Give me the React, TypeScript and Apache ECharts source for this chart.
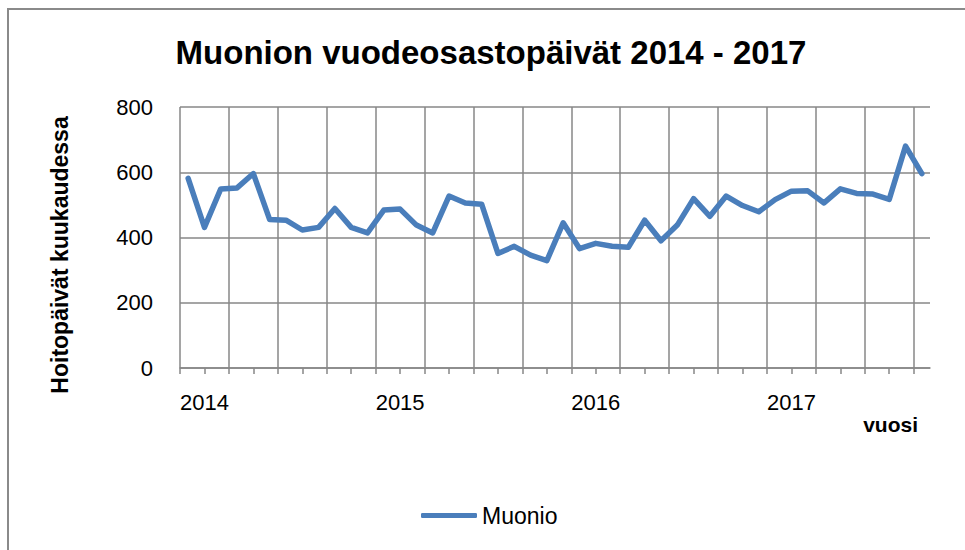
import React, { useEffect, useRef } from "react";
import * as echarts from "echarts";

const yearLabels = ["2014", "2015", "2016", "2017"];
const yearLabelPositions = [1.5, 13.5, 25.5, 37.5];
const muonio = [
  581, 431, 549, 552, 596, 455, 453, 423, 431, 489, 431, 414,
  484, 487, 438, 414, 527, 506, 502, 351, 373, 346, 329, 445,
  366, 382, 373, 370, 453, 390, 438, 519, 465, 527, 498, 479,
  516, 542, 543, 506, 549, 535, 533, 517, 680, 596,
];
const seriesName = "Muonio";
const titleText = "Muonion vuodeosastopäivät 2014 - 2017";
const yAxisName = "Hoitopäivät kuukaudessa";
const xAxisName = "vuosi";

const FONT = "'Liberation Sans', Arial, sans-serif";
const GRID_COLOR = "#878787";
const LINE_COLOR = "#4A7EBB";

export default function App() {
  const ref = useRef<HTMLDivElement>(null);
  useEffect(() => {
    if (!ref.current) return;
    const chart = echarts.init(ref.current, undefined, { renderer: "svg" });
    const n = muonio.length;
    const plotLeft = 180;
    const plotRight = 930;
    const plotWidth = plotRight - plotLeft;
    const unit = plotWidth / n;
    const gridLineStyle = { color: GRID_COLOR, width: 1.5 };
    chart.setOption({
      animation: false,
      backgroundColor: "#fff",
      textStyle: { fontFamily: FONT },
      grid: [
        { left: plotLeft, right: 965 - plotRight, top: 107, bottom: 182 },
        { left: plotLeft, width: unit * (n - 1), top: 107, bottom: 182 },
      ],
      xAxis: [
        {
          gridIndex: 0,
          type: "value",
          min: 0,
          max: n,
          axisLine: { show: true, lineStyle: gridLineStyle },
          axisTick: { show: false },
          axisLabel: { show: false },
          splitLine: { show: false },
        },
        {
          gridIndex: 1,
          type: "value",
          min: 0,
          max: n - 1,
          interval: 1.5,
          axisLine: { show: false },
          axisTick: { show: true, length: 6, lineStyle: gridLineStyle },
          axisLabel: {
            show: true,
            fontSize: 22,
            color: "#000",
            fontFamily: FONT,
            margin: 23,
            formatter: (v: number) => {
              const i = yearLabelPositions.findIndex((p) => Math.abs(p - v) < 1e-6);
              return i >= 0 ? yearLabels[i] : "";
            },
          },
          splitLine: { show: false },
        },
        {
          gridIndex: 1,
          type: "value",
          min: 0,
          max: n - 1,
          interval: 3,
          axisLine: { show: false },
          axisTick: { show: false },
          axisLabel: { show: false },
          splitLine: { show: true, lineStyle: gridLineStyle },
        },
      ],
      yAxis: [
        {
          gridIndex: 0,
          type: "value",
          min: 0,
          max: 800,
          interval: 200,
          axisLine: { show: false },
          axisTick: { show: false },
          axisLabel: { fontSize: 22, color: "#000", fontFamily: FONT, margin: 27 },
          splitLine: { show: true, lineStyle: gridLineStyle },
        },
        { gridIndex: 1, type: "value", min: 0, max: 800, show: false, splitLine: { show: false } },
      ],
      legend: {
        data: [{ name: seriesName, icon: "roundRect" }],
        left: 421,
        top: 504,
        padding: 0,
        itemWidth: 56,
        itemHeight: 5,
        itemGap: 5,
        itemStyle: { color: LINE_COLOR },
        textStyle: { fontSize: 23, color: "#000", fontFamily: FONT },
      },
      graphic: [
        {
          type: "rect",
          z: -10,
          shape: { x: 8, y: 9, width: 1200, height: 800 },
          style: { fill: "none", stroke: "#8a8a8a", lineWidth: 2 },
        },
        {
          type: "text",
          x: 491,
          y: 52,
          style: {
            text: titleText,
            fontSize: 33,
            fontWeight: "bold",
            fontFamily: FONT,
            fill: "#000",
            align: "center",
            verticalAlign: "middle",
            textAlign: "center",
            textVerticalAlign: "middle",
          },
        },
        {
          type: "text",
          x: 60,
          y: 255,
          rotation: Math.PI / 2,
          style: {
            text: yAxisName,
            fontSize: 23,
            fontWeight: "bold",
            fontFamily: FONT,
            fill: "#000",
            align: "center",
            verticalAlign: "middle",
            textAlign: "center",
            textVerticalAlign: "middle",
          },
        },
        {
          type: "text",
          x: 918,
          y: 424,
          style: {
            text: xAxisName,
            fontSize: 21,
            fontWeight: "bold",
            fontFamily: FONT,
            fill: "#000",
            align: "right",
            verticalAlign: "middle",
            textAlign: "right",
            textVerticalAlign: "middle",
          },
        },
      ],
      series: [
        {
          type: "line",
          name: seriesName,
          xAxisIndex: 0,
          yAxisIndex: 0,
          data: muonio.map((v, i) => [i + 0.5, v]),
          symbol: "none",
          lineStyle: { color: LINE_COLOR, width: 5.5, cap: "round", join: "round" },
          itemStyle: { color: LINE_COLOR },
        },
      ],
    });
    return () => chart.dispose();
  }, []);
  return (
    <div
      ref={ref}
      style={{ position: "fixed", left: 0, top: 0, width: 965, height: 550 }}
    />
  );
}
